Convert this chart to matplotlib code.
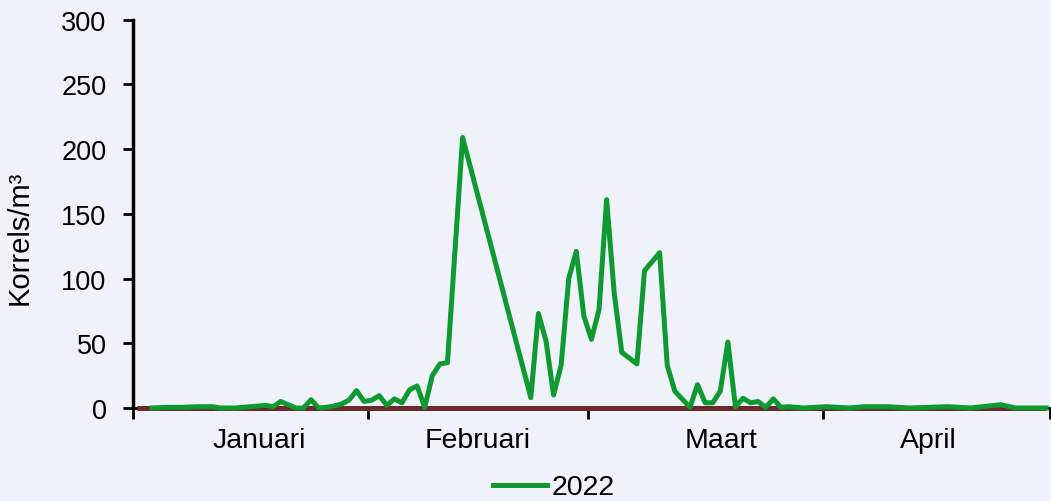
import numpy as np
import matplotlib.pyplot as plt

#------------------------------------------------------------------------------#
# Data (day 0 = 1 januari, leap-year calendar as on the chart axis)            #
#------------------------------------------------------------------------------#
days_2022 = [2, 4, 6, 8, 10, 11, 13, 15, 16, 17, 18, 19, 21, 22, 23, 24, 25,
             26, 27, 28, 29, 30, 31, 32, 33, 34, 35, 36, 37, 38, 39, 40, 41,
             43, 52, 53, 54, 55, 56, 57, 58, 59, 60, 61, 62, 63, 64, 66, 67,
             69, 70, 71, 73, 74, 75, 76, 77, 78, 79, 80, 81, 82, 83, 84, 85,
             86, 88, 91, 94, 96, 99, 102, 107, 110, 114, 116, 120]
korrels_2022 = [0, 0.5, 0.5, 1, 1, 0, 0, 1, 1.5, 2, 1, 5, 0, 0, 6.4, 0, 0.5,
                1.5, 3, 6, 13.4, 5, 6, 9.5, 2, 7, 4, 14, 17, 0.5, 25, 34, 35,
                209, 8, 73, 52, 10, 33, 100, 121, 71, 53, 76, 161, 89, 43, 34, 106,
                120, 33, 13, 0.5, 18, 4, 4, 13, 51, 1, 7.5, 4, 5, 0.5, 7, 0.5,
                1, 0, 1, 0, 1, 1, 0, 1, 0, 2.5, 0, 0]

# flat dark-red reference series along the x axis
ref_days = [0, 120]
ref_values = [0, 0]

month_bounds = [0, 31, 60, 91, 121]
month_names = ['Januari', 'Februari', 'Maart', 'April']
month_label_pos = [16.7, 45.5, 77.6, 105.0]

#------------------------------------------------------------------------------#
# Plot                                                                         #
#------------------------------------------------------------------------------#
bg = '#EFF3F9'
plt.rcParams['font.family'] = ['Liberation Sans', 'DejaVu Sans']

fig = plt.figure(figsize=(10.51, 5.02), dpi=100, facecolor=bg)
ax = fig.add_axes([0.1265, 0.1853, 0.8725, 0.7735], facecolor=bg)

ax.plot(np.array(ref_days) + 0.5, ref_values, color='#6B2A2A', lw=3.6,
        solid_capstyle='butt', clip_on=False, zorder=3)
ax.plot(np.array(days_2022) + 0.5, korrels_2022, color='#0E9A30', lw=3.6,
        label='2022', clip_on=False, zorder=4, solid_joinstyle='round')

ax.set_xlim(0, 121)
ax.set_ylim(0, 300)
ax.set_yticks(range(0, 301, 50))

ax.set_xticks(month_bounds)
ax.set_xticklabels([])
ax.set_xticks(month_label_pos, minor=True)
ax.set_xticklabels(month_names, minor=True)

ax.tick_params(axis='y', direction='out', length=7, width=2, pad=12,
               labelsize=19.5, color='black')
ax.tick_params(axis='x', which='major', direction='out', length=8, width=2)
ax.tick_params(axis='x', which='minor', length=0, pad=14, labelsize=20.5)

for s in ['top', 'right']:
    ax.spines[s].set_visible(False)
ax.spines['left'].set_linewidth(2.5)
ax.spines['bottom'].set_linewidth(2)

ax.set_ylabel('Korrels/m³', fontsize=21)
ax.yaxis.set_label_coords(-0.108, 0.44)

fig.legend(loc='lower center', bbox_to_anchor=(0.527, -0.05), frameon=False,
           fontsize=20.5, handlelength=1.9, handletextpad=0.15)

fig.savefig('out.png', dpi=100, facecolor=bg)
